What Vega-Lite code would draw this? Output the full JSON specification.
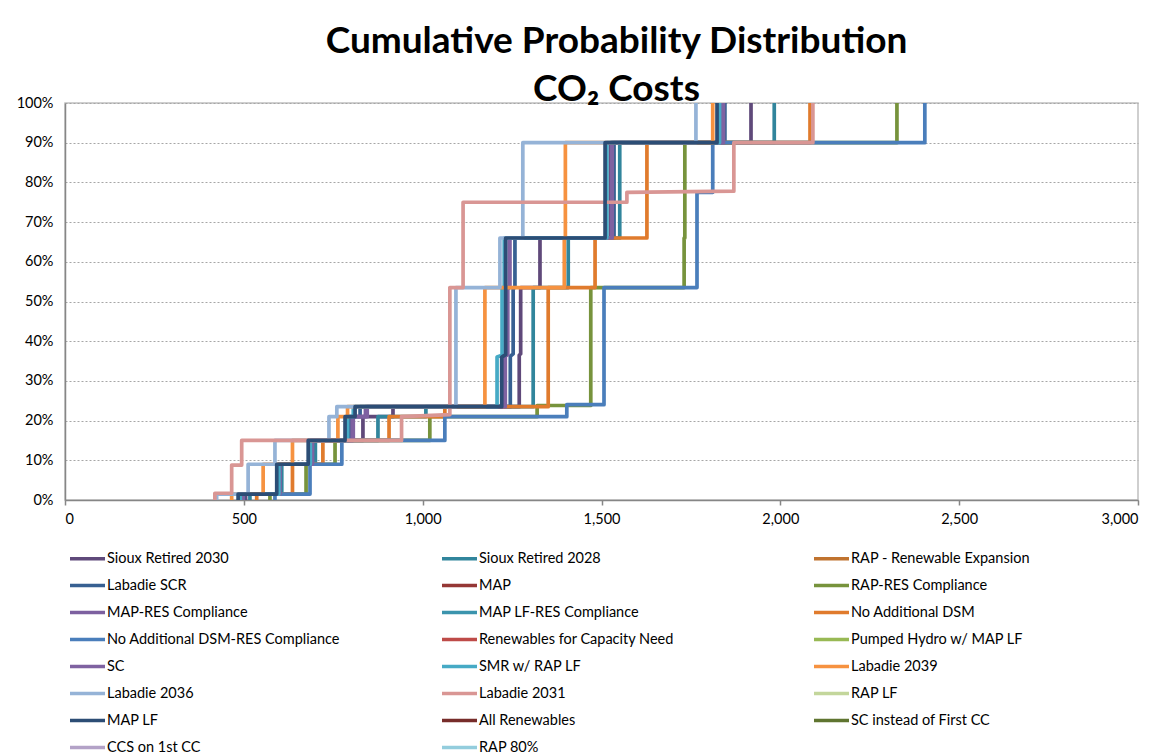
{
  "$schema": "https://vega.github.io/schema/vega-lite/v6.json",
  "width": 1073,
  "height": 397,
  "autosize": {"type": "none"},
  "padding": {"left": 65, "top": 103, "right": 29, "bottom": 255},
  "background": "white",
  "title": {
    "text": ["Cumulative Probability Distribution", "CO₂ Costs"],
    "font": "Lato",
    "fontSize": 37,
    "fontWeight": "bold",
    "color": "#000000",
    "anchor": "middle",
    "dx": 15,
    "lineHeight": 48,
    "offset": -14
  },
  "config": {
    "view": {"stroke": "#C0C0C0", "strokeWidth": 1.5},
    "axis": {"labelFont": "Lato", "labelFontSize": 14.5, "labelColor": "#000000"}
  },
  "data": {
    "values": [
      {"s": "Sioux Retired 2030", "i": 1, "x": 505, "p": 0},
      {"s": "Sioux Retired 2030", "i": 2, "x": 505, "p": 0.015},
      {"s": "Sioux Retired 2030", "i": 3, "x": 600, "p": 0.015},
      {"s": "Sioux Retired 2030", "i": 4, "x": 600, "p": 0.09},
      {"s": "Sioux Retired 2030", "i": 5, "x": 695, "p": 0.09},
      {"s": "Sioux Retired 2030", "i": 6, "x": 695, "p": 0.15},
      {"s": "Sioux Retired 2030", "i": 7, "x": 833, "p": 0.15},
      {"s": "Sioux Retired 2030", "i": 8, "x": 833, "p": 0.21},
      {"s": "Sioux Retired 2030", "i": 9, "x": 917, "p": 0.21},
      {"s": "Sioux Retired 2030", "i": 10, "x": 917, "p": 0.235},
      {"s": "Sioux Retired 2030", "i": 11, "x": 1270, "p": 0.235},
      {"s": "Sioux Retired 2030", "i": 12, "x": 1270, "p": 0.365},
      {"s": "Sioux Retired 2030", "i": 13, "x": 1274, "p": 0.368},
      {"s": "Sioux Retired 2030", "i": 14, "x": 1274, "p": 0.535},
      {"s": "Sioux Retired 2030", "i": 15, "x": 1328, "p": 0.535},
      {"s": "Sioux Retired 2030", "i": 16, "x": 1328, "p": 0.66},
      {"s": "Sioux Retired 2030", "i": 17, "x": 1525, "p": 0.66},
      {"s": "Sioux Retired 2030", "i": 18, "x": 1525, "p": 0.9},
      {"s": "Sioux Retired 2030", "i": 19, "x": 1918, "p": 0.9},
      {"s": "Sioux Retired 2030", "i": 20, "x": 1918, "p": 1},

      {"s": "Sioux Retired 2028", "i": 1, "x": 517, "p": 0},
      {"s": "Sioux Retired 2028", "i": 2, "x": 517, "p": 0.015},
      {"s": "Sioux Retired 2028", "i": 3, "x": 606, "p": 0.015},
      {"s": "Sioux Retired 2028", "i": 4, "x": 606, "p": 0.09},
      {"s": "Sioux Retired 2028", "i": 5, "x": 700, "p": 0.09},
      {"s": "Sioux Retired 2028", "i": 6, "x": 700, "p": 0.15},
      {"s": "Sioux Retired 2028", "i": 7, "x": 875, "p": 0.15},
      {"s": "Sioux Retired 2028", "i": 8, "x": 875, "p": 0.21},
      {"s": "Sioux Retired 2028", "i": 9, "x": 1009, "p": 0.21},
      {"s": "Sioux Retired 2028", "i": 10, "x": 1009, "p": 0.235},
      {"s": "Sioux Retired 2028", "i": 11, "x": 1309, "p": 0.235},
      {"s": "Sioux Retired 2028", "i": 12, "x": 1309, "p": 0.535},
      {"s": "Sioux Retired 2028", "i": 13, "x": 1407, "p": 0.535},
      {"s": "Sioux Retired 2028", "i": 14, "x": 1407, "p": 0.66},
      {"s": "Sioux Retired 2028", "i": 15, "x": 1551, "p": 0.66},
      {"s": "Sioux Retired 2028", "i": 16, "x": 1551, "p": 0.9},
      {"s": "Sioux Retired 2028", "i": 17, "x": 1983, "p": 0.9},
      {"s": "Sioux Retired 2028", "i": 18, "x": 1983, "p": 1},

      {"s": "Labadie SCR", "i": 1, "x": 500, "p": 0},
      {"s": "Labadie SCR", "i": 2, "x": 500, "p": 0.015},
      {"s": "Labadie SCR", "i": 3, "x": 596, "p": 0.015},
      {"s": "Labadie SCR", "i": 4, "x": 596, "p": 0.09},
      {"s": "Labadie SCR", "i": 5, "x": 688, "p": 0.09},
      {"s": "Labadie SCR", "i": 6, "x": 688, "p": 0.15},
      {"s": "Labadie SCR", "i": 7, "x": 795, "p": 0.15},
      {"s": "Labadie SCR", "i": 8, "x": 795, "p": 0.21},
      {"s": "Labadie SCR", "i": 9, "x": 825, "p": 0.21},
      {"s": "Labadie SCR", "i": 10, "x": 825, "p": 0.235},
      {"s": "Labadie SCR", "i": 11, "x": 1245, "p": 0.235},
      {"s": "Labadie SCR", "i": 12, "x": 1245, "p": 0.362},
      {"s": "Labadie SCR", "i": 13, "x": 1253, "p": 0.368},
      {"s": "Labadie SCR", "i": 14, "x": 1253, "p": 0.535},
      {"s": "Labadie SCR", "i": 15, "x": 1258, "p": 0.535},
      {"s": "Labadie SCR", "i": 16, "x": 1258, "p": 0.66},
      {"s": "Labadie SCR", "i": 17, "x": 1535, "p": 0.66},
      {"s": "Labadie SCR", "i": 18, "x": 1535, "p": 0.9},
      {"s": "Labadie SCR", "i": 19, "x": 1845, "p": 0.9},
      {"s": "Labadie SCR", "i": 20, "x": 1845, "p": 1},

      {"s": "RAP-RES Compliance", "i": 1, "x": 573, "p": 0},
      {"s": "RAP-RES Compliance", "i": 2, "x": 573, "p": 0.015},
      {"s": "RAP-RES Compliance", "i": 3, "x": 674, "p": 0.015},
      {"s": "RAP-RES Compliance", "i": 4, "x": 674, "p": 0.09},
      {"s": "RAP-RES Compliance", "i": 5, "x": 755, "p": 0.09},
      {"s": "RAP-RES Compliance", "i": 6, "x": 755, "p": 0.15},
      {"s": "RAP-RES Compliance", "i": 7, "x": 1020, "p": 0.15},
      {"s": "RAP-RES Compliance", "i": 8, "x": 1020, "p": 0.21},
      {"s": "RAP-RES Compliance", "i": 9, "x": 1320, "p": 0.21},
      {"s": "RAP-RES Compliance", "i": 10, "x": 1320, "p": 0.238},
      {"s": "RAP-RES Compliance", "i": 11, "x": 1470, "p": 0.238},
      {"s": "RAP-RES Compliance", "i": 12, "x": 1470, "p": 0.535},
      {"s": "RAP-RES Compliance", "i": 13, "x": 1731, "p": 0.535},
      {"s": "RAP-RES Compliance", "i": 14, "x": 1731, "p": 0.66},
      {"s": "RAP-RES Compliance", "i": 15, "x": 1733, "p": 0.66},
      {"s": "RAP-RES Compliance", "i": 16, "x": 1733, "p": 0.9},
      {"s": "RAP-RES Compliance", "i": 17, "x": 2326, "p": 0.9},
      {"s": "RAP-RES Compliance", "i": 18, "x": 2326, "p": 1},

      {"s": "MAP-RES Compliance", "i": 1, "x": 495, "p": 0},
      {"s": "MAP-RES Compliance", "i": 2, "x": 495, "p": 0.015},
      {"s": "MAP-RES Compliance", "i": 3, "x": 598, "p": 0.015},
      {"s": "MAP-RES Compliance", "i": 4, "x": 598, "p": 0.09},
      {"s": "MAP-RES Compliance", "i": 5, "x": 690, "p": 0.09},
      {"s": "MAP-RES Compliance", "i": 6, "x": 690, "p": 0.15},
      {"s": "MAP-RES Compliance", "i": 7, "x": 803, "p": 0.15},
      {"s": "MAP-RES Compliance", "i": 8, "x": 803, "p": 0.21},
      {"s": "MAP-RES Compliance", "i": 9, "x": 840, "p": 0.21},
      {"s": "MAP-RES Compliance", "i": 10, "x": 840, "p": 0.235},
      {"s": "MAP-RES Compliance", "i": 11, "x": 1228, "p": 0.235},
      {"s": "MAP-RES Compliance", "i": 12, "x": 1228, "p": 0.362},
      {"s": "MAP-RES Compliance", "i": 13, "x": 1236, "p": 0.366},
      {"s": "MAP-RES Compliance", "i": 14, "x": 1236, "p": 0.535},
      {"s": "MAP-RES Compliance", "i": 15, "x": 1242, "p": 0.535},
      {"s": "MAP-RES Compliance", "i": 16, "x": 1242, "p": 0.66},
      {"s": "MAP-RES Compliance", "i": 17, "x": 1528, "p": 0.66},
      {"s": "MAP-RES Compliance", "i": 18, "x": 1528, "p": 0.9},
      {"s": "MAP-RES Compliance", "i": 19, "x": 1838, "p": 0.9},
      {"s": "MAP-RES Compliance", "i": 20, "x": 1838, "p": 1},

      {"s": "No Additional DSM", "i": 1, "x": 536, "p": 0},
      {"s": "No Additional DSM", "i": 2, "x": 536, "p": 0.015},
      {"s": "No Additional DSM", "i": 3, "x": 636, "p": 0.015},
      {"s": "No Additional DSM", "i": 4, "x": 636, "p": 0.09},
      {"s": "No Additional DSM", "i": 5, "x": 721, "p": 0.09},
      {"s": "No Additional DSM", "i": 6, "x": 721, "p": 0.15},
      {"s": "No Additional DSM", "i": 7, "x": 906, "p": 0.15},
      {"s": "No Additional DSM", "i": 8, "x": 906, "p": 0.21},
      {"s": "No Additional DSM", "i": 9, "x": 1062, "p": 0.21},
      {"s": "No Additional DSM", "i": 10, "x": 1062, "p": 0.235},
      {"s": "No Additional DSM", "i": 11, "x": 1351, "p": 0.235},
      {"s": "No Additional DSM", "i": 12, "x": 1351, "p": 0.535},
      {"s": "No Additional DSM", "i": 13, "x": 1482, "p": 0.535},
      {"s": "No Additional DSM", "i": 14, "x": 1482, "p": 0.66},
      {"s": "No Additional DSM", "i": 15, "x": 1627, "p": 0.66},
      {"s": "No Additional DSM", "i": 16, "x": 1627, "p": 0.9},
      {"s": "No Additional DSM", "i": 17, "x": 2083, "p": 0.9},
      {"s": "No Additional DSM", "i": 18, "x": 2083, "p": 1},

      {"s": "No Additional DSM-RES Compliance", "i": 1, "x": 587, "p": 0},
      {"s": "No Additional DSM-RES Compliance", "i": 2, "x": 587, "p": 0.015},
      {"s": "No Additional DSM-RES Compliance", "i": 3, "x": 685, "p": 0.015},
      {"s": "No Additional DSM-RES Compliance", "i": 4, "x": 685, "p": 0.09},
      {"s": "No Additional DSM-RES Compliance", "i": 5, "x": 774, "p": 0.09},
      {"s": "No Additional DSM-RES Compliance", "i": 6, "x": 774, "p": 0.15},
      {"s": "No Additional DSM-RES Compliance", "i": 7, "x": 1062, "p": 0.15},
      {"s": "No Additional DSM-RES Compliance", "i": 8, "x": 1062, "p": 0.21},
      {"s": "No Additional DSM-RES Compliance", "i": 9, "x": 1403, "p": 0.21},
      {"s": "No Additional DSM-RES Compliance", "i": 10, "x": 1403, "p": 0.24},
      {"s": "No Additional DSM-RES Compliance", "i": 11, "x": 1507, "p": 0.24},
      {"s": "No Additional DSM-RES Compliance", "i": 12, "x": 1507, "p": 0.535},
      {"s": "No Additional DSM-RES Compliance", "i": 13, "x": 1767, "p": 0.535},
      {"s": "No Additional DSM-RES Compliance", "i": 14, "x": 1767, "p": 0.775},
      {"s": "No Additional DSM-RES Compliance", "i": 15, "x": 1811, "p": 0.775},
      {"s": "No Additional DSM-RES Compliance", "i": 16, "x": 1811, "p": 0.9},
      {"s": "No Additional DSM-RES Compliance", "i": 17, "x": 2404, "p": 0.9},
      {"s": "No Additional DSM-RES Compliance", "i": 18, "x": 2404, "p": 1},

      {"s": "SC", "i": 1, "x": 498, "p": 0},
      {"s": "SC", "i": 2, "x": 498, "p": 0.015},
      {"s": "SC", "i": 3, "x": 601, "p": 0.015},
      {"s": "SC", "i": 4, "x": 601, "p": 0.09},
      {"s": "SC", "i": 5, "x": 692, "p": 0.09},
      {"s": "SC", "i": 6, "x": 692, "p": 0.15},
      {"s": "SC", "i": 7, "x": 806, "p": 0.15},
      {"s": "SC", "i": 8, "x": 806, "p": 0.21},
      {"s": "SC", "i": 9, "x": 845, "p": 0.21},
      {"s": "SC", "i": 10, "x": 845, "p": 0.235},
      {"s": "SC", "i": 11, "x": 1231, "p": 0.235},
      {"s": "SC", "i": 12, "x": 1231, "p": 0.362},
      {"s": "SC", "i": 13, "x": 1238, "p": 0.366},
      {"s": "SC", "i": 14, "x": 1238, "p": 0.535},
      {"s": "SC", "i": 15, "x": 1244, "p": 0.535},
      {"s": "SC", "i": 16, "x": 1244, "p": 0.66},
      {"s": "SC", "i": 17, "x": 1530, "p": 0.66},
      {"s": "SC", "i": 18, "x": 1530, "p": 0.9},
      {"s": "SC", "i": 19, "x": 1841, "p": 0.9},
      {"s": "SC", "i": 20, "x": 1841, "p": 1},

      {"s": "SMR w/ RAP LF", "i": 1, "x": 490, "p": 0},
      {"s": "SMR w/ RAP LF", "i": 2, "x": 490, "p": 0.015},
      {"s": "SMR w/ RAP LF", "i": 3, "x": 598, "p": 0.015},
      {"s": "SMR w/ RAP LF", "i": 4, "x": 598, "p": 0.09},
      {"s": "SMR w/ RAP LF", "i": 5, "x": 686, "p": 0.09},
      {"s": "SMR w/ RAP LF", "i": 6, "x": 686, "p": 0.15},
      {"s": "SMR w/ RAP LF", "i": 7, "x": 790, "p": 0.15},
      {"s": "SMR w/ RAP LF", "i": 8, "x": 790, "p": 0.21},
      {"s": "SMR w/ RAP LF", "i": 9, "x": 806, "p": 0.21},
      {"s": "SMR w/ RAP LF", "i": 10, "x": 806, "p": 0.235},
      {"s": "SMR w/ RAP LF", "i": 11, "x": 1208, "p": 0.235},
      {"s": "SMR w/ RAP LF", "i": 12, "x": 1208, "p": 0.36},
      {"s": "SMR w/ RAP LF", "i": 13, "x": 1222, "p": 0.365},
      {"s": "SMR w/ RAP LF", "i": 14, "x": 1222, "p": 0.535},
      {"s": "SMR w/ RAP LF", "i": 15, "x": 1228, "p": 0.535},
      {"s": "SMR w/ RAP LF", "i": 16, "x": 1228, "p": 0.66},
      {"s": "SMR w/ RAP LF", "i": 17, "x": 1515, "p": 0.66},
      {"s": "SMR w/ RAP LF", "i": 18, "x": 1515, "p": 0.9},
      {"s": "SMR w/ RAP LF", "i": 19, "x": 1830, "p": 0.9},
      {"s": "SMR w/ RAP LF", "i": 20, "x": 1830, "p": 1},

      {"s": "Labadie 2039", "i": 1, "x": 466, "p": 0},
      {"s": "Labadie 2039", "i": 2, "x": 466, "p": 0.015},
      {"s": "Labadie 2039", "i": 3, "x": 554, "p": 0.015},
      {"s": "Labadie 2039", "i": 4, "x": 554, "p": 0.09},
      {"s": "Labadie 2039", "i": 5, "x": 636, "p": 0.09},
      {"s": "Labadie 2039", "i": 6, "x": 636, "p": 0.15},
      {"s": "Labadie 2039", "i": 7, "x": 763, "p": 0.15},
      {"s": "Labadie 2039", "i": 8, "x": 763, "p": 0.21},
      {"s": "Labadie 2039", "i": 9, "x": 790, "p": 0.21},
      {"s": "Labadie 2039", "i": 10, "x": 790, "p": 0.235},
      {"s": "Labadie 2039", "i": 11, "x": 1174, "p": 0.235},
      {"s": "Labadie 2039", "i": 12, "x": 1174, "p": 0.535},
      {"s": "Labadie 2039", "i": 13, "x": 1396, "p": 0.535},
      {"s": "Labadie 2039", "i": 14, "x": 1396, "p": 0.66},
      {"s": "Labadie 2039", "i": 15, "x": 1399, "p": 0.66},
      {"s": "Labadie 2039", "i": 16, "x": 1399, "p": 0.9},
      {"s": "Labadie 2039", "i": 17, "x": 1811, "p": 0.9},
      {"s": "Labadie 2039", "i": 18, "x": 1811, "p": 1},

      {"s": "Labadie 2036", "i": 1, "x": 424, "p": 0},
      {"s": "Labadie 2036", "i": 2, "x": 424, "p": 0.015},
      {"s": "Labadie 2036", "i": 3, "x": 512, "p": 0.015},
      {"s": "Labadie 2036", "i": 4, "x": 512, "p": 0.09},
      {"s": "Labadie 2036", "i": 5, "x": 587, "p": 0.09},
      {"s": "Labadie 2036", "i": 6, "x": 587, "p": 0.15},
      {"s": "Labadie 2036", "i": 7, "x": 738, "p": 0.15},
      {"s": "Labadie 2036", "i": 8, "x": 738, "p": 0.21},
      {"s": "Labadie 2036", "i": 9, "x": 760, "p": 0.21},
      {"s": "Labadie 2036", "i": 10, "x": 760, "p": 0.235},
      {"s": "Labadie 2036", "i": 11, "x": 1093, "p": 0.235},
      {"s": "Labadie 2036", "i": 12, "x": 1093, "p": 0.535},
      {"s": "Labadie 2036", "i": 13, "x": 1216, "p": 0.535},
      {"s": "Labadie 2036", "i": 14, "x": 1216, "p": 0.66},
      {"s": "Labadie 2036", "i": 15, "x": 1280, "p": 0.66},
      {"s": "Labadie 2036", "i": 16, "x": 1280, "p": 0.9},
      {"s": "Labadie 2036", "i": 17, "x": 1764, "p": 0.9},
      {"s": "Labadie 2036", "i": 18, "x": 1764, "p": 1},

      {"s": "Labadie 2031", "i": 1, "x": 419, "p": 0},
      {"s": "Labadie 2031", "i": 2, "x": 419, "p": 0.017},
      {"s": "Labadie 2031", "i": 3, "x": 466, "p": 0.017},
      {"s": "Labadie 2031", "i": 4, "x": 466, "p": 0.088},
      {"s": "Labadie 2031", "i": 5, "x": 494, "p": 0.088},
      {"s": "Labadie 2031", "i": 6, "x": 494, "p": 0.15},
      {"s": "Labadie 2031", "i": 7, "x": 941, "p": 0.15},
      {"s": "Labadie 2031", "i": 8, "x": 941, "p": 0.21},
      {"s": "Labadie 2031", "i": 9, "x": 1076, "p": 0.215},
      {"s": "Labadie 2031", "i": 10, "x": 1076, "p": 0.535},
      {"s": "Labadie 2031", "i": 11, "x": 1113, "p": 0.535},
      {"s": "Labadie 2031", "i": 12, "x": 1113, "p": 0.75},
      {"s": "Labadie 2031", "i": 13, "x": 1571, "p": 0.75},
      {"s": "Labadie 2031", "i": 14, "x": 1571, "p": 0.775},
      {"s": "Labadie 2031", "i": 15, "x": 1870, "p": 0.778},
      {"s": "Labadie 2031", "i": 16, "x": 1870, "p": 0.9},
      {"s": "Labadie 2031", "i": 17, "x": 2091, "p": 0.9},
      {"s": "Labadie 2031", "i": 18, "x": 2091, "p": 1},

      {"s": "MAP LF", "i": 1, "x": 484, "p": 0},
      {"s": "MAP LF", "i": 2, "x": 484, "p": 0.015},
      {"s": "MAP LF", "i": 3, "x": 592, "p": 0.015},
      {"s": "MAP LF", "i": 4, "x": 592, "p": 0.09},
      {"s": "MAP LF", "i": 5, "x": 680, "p": 0.09},
      {"s": "MAP LF", "i": 6, "x": 680, "p": 0.15},
      {"s": "MAP LF", "i": 7, "x": 783, "p": 0.15},
      {"s": "MAP LF", "i": 8, "x": 783, "p": 0.21},
      {"s": "MAP LF", "i": 9, "x": 811, "p": 0.21},
      {"s": "MAP LF", "i": 10, "x": 811, "p": 0.235},
      {"s": "MAP LF", "i": 11, "x": 1221, "p": 0.235},
      {"s": "MAP LF", "i": 12, "x": 1221, "p": 0.36},
      {"s": "MAP LF", "i": 13, "x": 1232, "p": 0.366},
      {"s": "MAP LF", "i": 14, "x": 1232, "p": 0.66},
      {"s": "MAP LF", "i": 15, "x": 1510, "p": 0.66},
      {"s": "MAP LF", "i": 16, "x": 1510, "p": 0.9},
      {"s": "MAP LF", "i": 17, "x": 1823, "p": 0.9},
      {"s": "MAP LF", "i": 18, "x": 1823, "p": 1}
    ]
  },
  "mark": {"type": "line", "strokeWidth": 3.7, "strokeJoin": "round", "strokeCap": "round", "clip": true},
  "encoding": {
    "x": {
      "field": "x", "type": "quantitative",
      "scale": {"domain": [0, 3000], "nice": false, "zero": true},
      "axis": {"title": null, "values": [0, 500, 1000, 1500, 2000, 2500, 3000], "format": ",.0f", "grid": false,
               "domainColor": "#868686", "domainWidth": 1.5, "tickColor": "#868686", "tickSize": 5, "tickWidth": 1.5, "labelPadding": 7}
    },
    "y": {
      "field": "p", "type": "quantitative",
      "scale": {"domain": [0, 1], "nice": false},
      "axis": {"title": null, "values": [0, 0.1, 0.2, 0.3, 0.4, 0.5, 0.6, 0.7, 0.8, 0.9, 1], "format": ".0%",
               "grid": true, "gridColor": "#A6A6A6", "gridDash": [2, 2], "gridWidth": 1,
               "domainColor": "#868686", "domainWidth": 1.5, "ticks": false, "labelPadding": 12}
    },
    "order": {"field": "i", "type": "quantitative"},
    "color": {
      "field": "s", "type": "nominal",
      "scale": {
        "domain": ["Sioux Retired 2030", "Sioux Retired 2028", "RAP - Renewable Expansion", "Labadie SCR", "MAP", "RAP-RES Compliance", "MAP-RES Compliance", "MAP LF-RES Compliance", "No Additional DSM", "No Additional DSM-RES Compliance", "Renewables for Capacity Need", "Pumped Hydro w/ MAP LF", "SC", "SMR w/ RAP LF", "Labadie 2039", "Labadie 2036", "Labadie 2031", "RAP LF", "MAP LF", "All Renewables", "SC instead of First CC", "CCS on 1st CC", "RAP 80%"],
        "range": ["#5F497A", "#31859C", "#C0732F", "#376092", "#953735", "#77933C", "#7D60A0", "#3B94AD", "#E07B2D", "#4A7EBB", "#BE4B48", "#98B954", "#7F62A1", "#46AAC5", "#F69240", "#95B3D7", "#D99694", "#C3D69B", "#2C4D75", "#772C2A", "#5F7530", "#B3A2C7", "#93CDDD"]
      },
      "legend": {
        "title": null,
        "orient": "none",
        "legendX": 3,
        "legendY": 436,
        "direction": "horizontal",
        "columns": 3,
        "gridAlign": "all",
        "columnPadding": 95,
        "rowPadding": -8,
        "padding": 0,
        "symbolType": "stroke",
        "symbolSize": 1225,
        "symbolStrokeWidth": 3.5,
        "labelFont": "Lato",
        "labelFontSize": 14.5,
        "labelColor": "#000000",
        "labelOffset": 0,
        "labelLimit": 400
      }
    }
  }
}
